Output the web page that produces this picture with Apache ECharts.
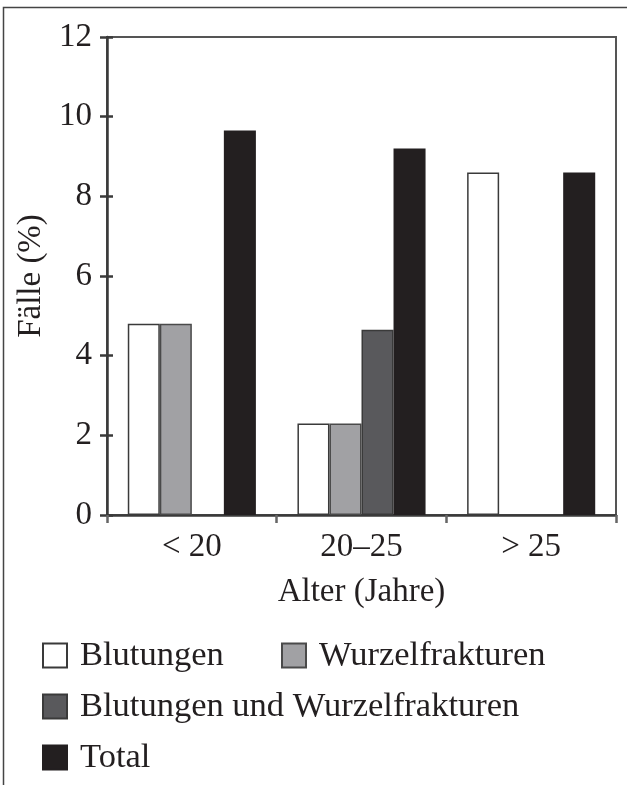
<!DOCTYPE html>
<html><head><meta charset="utf-8">
<script src="https://cdn.jsdelivr.net/npm/echarts@6/dist/echarts.min.js"></script>
<style>html,body{margin:0;padding:0;background:#fff}#c{width:627px;height:785px}</style>
</head><body><div id="c"></div>
<script>
const categories = ['< 20', '20–25', '> 25'];
const blutungen = [4.8, 2.3, 8.6];
const wurzelfrakturen = [4.8, 2.3, null];
const beide = [null, 4.65, null];
const total = [9.65, 9.2, 8.6];
const yTicks = [0, 2, 4, 6, 8, 10, 12];

const FONT = '"Liberation Serif", "DejaVu Serif", serif';
const TXT = '#231f20';
const chart = echarts.init(document.getElementById('c'));
const bar = (name, data, color, border) => ({
  name, type: 'bar', data, barGap: '0%', barCategoryGap: '24.5%',
  itemStyle: { color, borderColor: border, borderWidth: 1.5 }
});
const legendBase = {
  orient: 'horizontal', icon: 'rect', itemWidth: 24, itemHeight: 24, selectedMode: false, padding: 0,
  textStyle: { fontFamily: FONT, fontSize: 34.5, color: TXT, padding: [0, 0, 0, 8] }
};
const leg = (name, left, top) => Object.assign({}, legendBase, { data: [name], left, top });
chart.setOption({
  animation: false,
  grid: { left: 107, right: 11, top: 37, bottom: 270, show: true, borderColor: '#555', borderWidth: 2, backgroundColor: 'transparent' },
  graphic: [{ type: 'rect', shape: { x: 3.5, y: 7.5, width: 800, height: 900 }, style: { fill: 'none', stroke: '#444', lineWidth: 1.5 }, z: 0 }],
  legend: [
    leg('Blutungen', 42, 638),
    leg('Wurzelfrakturen', 281, 638),
    leg('Blutungen und Wurzelfrakturen', 42, 689),
    leg('Total', 42, 740)
  ],
  xAxis: {
    type: 'category', data: categories,
    name: 'Alter (Jahre)', nameLocation: 'middle', nameGap: 61,
    nameTextStyle: { fontFamily: FONT, fontSize: 33, color: TXT },
    axisLine: { lineStyle: { color: '#3a3a3a', width: 2.5 } },
    axisTick: { show: true, length: 8, lineStyle: { color: '#666', width: 2.5 } },
    axisLabel: { fontFamily: FONT, fontSize: 33, color: TXT, margin: 16 }
  },
  yAxis: [{
    type: 'value', min: 0, max: 12, interval: 2,
    name: 'Fälle (%)', nameLocation: 'middle', nameGap: 57,
    nameTextStyle: { fontFamily: FONT, fontSize: 33, color: TXT },
    axisLine: { show: true, lineStyle: { color: '#3a3a3a', width: 2.5 } },
    axisTick: { show: true, length: 7, lineStyle: { color: '#3a3a3a', width: 2.5 } },
    axisLabel: { fontFamily: FONT, fontSize: 33, color: TXT, margin: 15, formatter: v => yTicks.includes(v) ? String(v) : '' },
    splitLine: { show: false }
  }, {
    type: 'value', min: 0, max: 12, interval: 2, position: 'left',
    axisLine: { show: false },
    axisTick: { show: true, inside: true, length: 6, lineStyle: { color: '#3a3a3a', width: 2.5 } },
    axisLabel: { show: false }, splitLine: { show: false }
  }],
  series: [
    bar('Blutungen', blutungen, '#ffffff', '#3a3a3a'),
    bar('Wurzelfrakturen', wurzelfrakturen, '#a1a1a4', '#4a4a4a'),
    bar('Blutungen und Wurzelfrakturen', beide, '#59595c', '#3a3a3a'),
    bar('Total', total, '#231f20', '#231f20')
  ]
});
</script></body></html>
